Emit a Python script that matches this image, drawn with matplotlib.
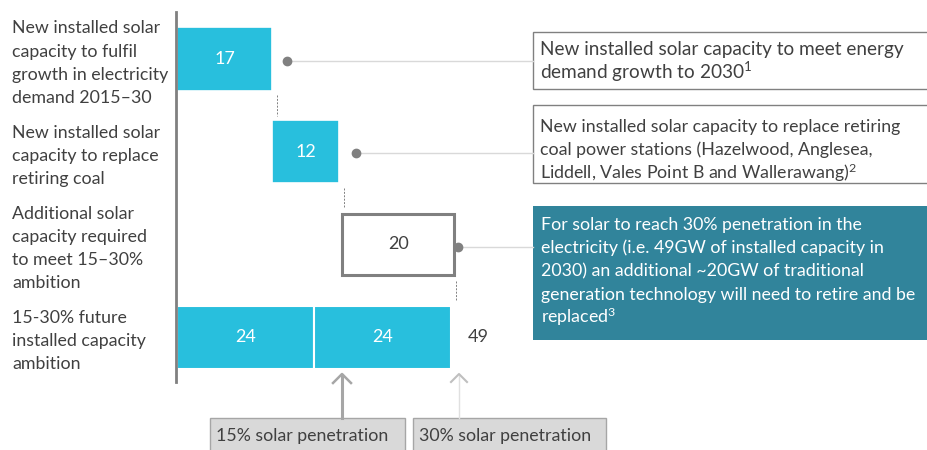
import matplotlib
matplotlib.use("Agg")
import matplotlib.pyplot as plt
from matplotlib.patches import Rectangle
from matplotlib.transforms import Affine2D

plt.rcParams['font.family'] = ['Lato', 'DejaVu Sans']
plt.rcParams['mathtext.fontset'] = 'custom'
plt.rcParams['mathtext.rm'] = 'Lato'
plt.rcParams['mathtext.it'] = 'Lato'

# ---- data ----
categories = [
    "New installed solar\ncapacity to fulfil\ngrowth in electricity\ndemand 2015\u201330",
    "New installed solar\ncapacity to replace\nretiring coal",
    "Additional solar\ncapacity required\nto meet 15\u201330%\nambition",
    "15-30% future\ninstalled capacity\nambition",
]
step_values = [17, 12, 20]          # waterfall steps
step_labels = ["17", "12", "20"]
total_parts = [24.5, 24.5]          # two halves of final bar (labelled 24 / 24)
total_part_labels = ["24", "24"]
total_value = 49
callouts = [
    "New installed solar capacity to meet energy\ndemand growth to 2030$^{1}$",
    "New installed solar capacity to replace retiring\ncoal power stations (Hazelwood, Anglesea,\nLiddell, Vales Point B and Wallerawang)$^{2}$",
    "For solar to reach 30% penetration in the\nelectricity (i.e. 49GW of installed capacity in\n2030) an additional ~20GW of traditional\ngeneration technology will need to retire and be\nreplaced$^{3}$",
]
markers = ["15% solar penetration", "30% solar penetration"]

W, H = 927, 450
fig = plt.figure(figsize=(W / 100, H / 100), dpi=100)
pix = Affine2D().scale(1 / W, -1 / H).translate(0, 1) + fig.transFigure

# axes: x data unit = 5.6 px, x=0 at pixel 177; rows 92.7 px apart, first row at y=59
ppu = 5.6
x0 = 177
ax = fig.add_axes([0, 0, 1, 1])
ax.set_xlim(-x0 / ppu, (W - x0) / ppu)
row0, rstep = 59, 92.7
ax.set_ylim((H - row0) / rstep, -row0 / rstep)
ax.axis('off')

cyan = "#28BFDD"
dark = "#404040"
grey = "#808080"
bh = 0.68
fs = 12.8

# waterfall steps
starts = [0, step_values[0], step_values[0] + step_values[1]]
for i, (v, s, lab) in enumerate(zip(step_values, starts, step_labels)):
    if i < 2:
        ax.barh(i, v, left=s, height=bh, color=cyan, edgecolor='white', linewidth=1.2)
        ax.text(s + v / 2, i, lab, color='white', ha='center', va='center', fontsize=13)
    else:
        ax.barh(i, v, left=s + 0.5, height=bh * 0.98, color='white', edgecolor=grey, linewidth=2.2)
        ax.text(s + 0.5 + v / 2, i, lab, color=dark, ha='center', va='center', fontsize=13)

# total bar
left = 0
for v, lab in zip(total_parts, total_part_labels):
    ax.barh(3, v, left=left, height=bh, color=cyan, edgecolor='white', linewidth=1.5)
    ax.text(left + v / 2, 3, lab, color='white', ha='center', va='center', fontsize=13)
    left += v
ax.text(total_value + 3, 3, str(total_value), color=dark, ha='left', va='center', fontsize=13)

# connectors (dashed) between rows
ends = [starts[0] + step_values[0], starts[1] + step_values[1], starts[2] + step_values[2]]
for i, e in enumerate(ends):
    xe = e + 0.9
    ax.plot([xe, xe], [i + bh / 2 + 0.05, i + 1 - bh / 2 - 0.05], color=grey, lw=0.7,
            ls=(0, (2, 1.5)))

# category labels
for i, c in enumerate(categories):
    ax.text(-x0 / ppu + 12 / ppu, i + 0.045, c, ha='left', va='center', fontsize=fs,
            color=dark, linespacing=1.55)

# axis line
fig.add_artist(plt.Line2D([176, 176], [12, 382], transform=pix, color=grey, lw=2))

# dots + lines to callout boxes
dot_px = [(287, 61), (356, 153), (458, 247)]
box_left = 533
for (dx, dy) in dot_px:
    fig.add_artist(plt.Line2D([dx, box_left], [dy, dy], transform=pix, color="#D9D9D9", lw=1))
    fig.add_artist(plt.Line2D([dx], [dy], transform=pix, color=grey, marker='o', ms=6, lw=0))


def lines_at(x, y_base, text, spacing, **kw):
    for k, line in enumerate(text.split("\n")):
        fig.text(x / W, 1 - (y_base + k * spacing) / H, line, ha='left', va='baseline', **kw)


# callout boxes
boxes = [(32, 89), (105, 183), (206, 340)]
baselines = [55, 132, 230]
for k, ((top, bot), txt, yb) in enumerate(zip(boxes, callouts, baselines)):
    if k < 2:
        fig.add_artist(Rectangle((box_left, top), 420, bot - top, transform=pix,
                                 facecolor='white', edgecolor=grey, lw=1))
        lines_at(540, yb, txt, 23.5, fontsize=13.7 if k == 0 else fs, color=dark)
    else:
        fig.add_artist(Rectangle((box_left, top), 420, bot - top, transform=pix,
                                 facecolor='#31849B', edgecolor='none'))
        lines_at(541, yb, txt, 23.3, fontsize=fs, color='white')

# bottom marker boxes & arrows
mboxes = [(210, 405), (413, 606)]
for (l, r_), txt in zip(mboxes, markers):
    fig.add_artist(Rectangle((l, 418), r_ - l, 50, transform=pix, facecolor='#D9D9D9',
                             edgecolor='#A6A6A6', lw=1))
    fig.text((l + 6) / W, 1 - 441 / H, txt, ha='left', va='baseline', fontsize=fs, color=dark)
# 15% arrow (thick)
fig.add_artist(plt.Line2D([342, 342], [418, 375], transform=pix, color='#A6A6A6', lw=2.2))
fig.add_artist(plt.Line2D([333, 342, 351], [383, 374, 383], transform=pix, color='#A6A6A6', lw=1.8))
# 30% arrow (thin)
fig.add_artist(plt.Line2D([459, 459], [418, 376], transform=pix, color='#E0E0E0', lw=1))
fig.add_artist(plt.Line2D([451, 459, 467], [382, 374, 382], transform=pix, color='#BFBFBF', lw=1.5))

fig.savefig("out.png", dpi=100)
